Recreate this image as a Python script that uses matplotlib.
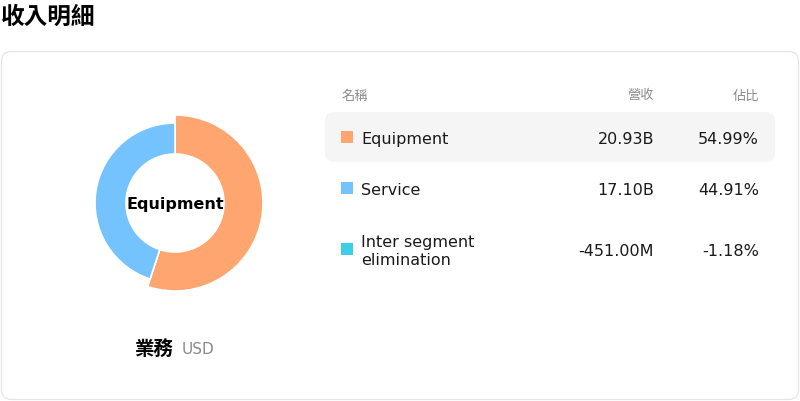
import matplotlib
matplotlib.use("Agg")
import matplotlib.pyplot as plt
from matplotlib.patches import FancyBboxPatch, Rectangle

plt.rcParams['font.family'] = ['DejaVu Sans', 'Noto Sans CJK TC']

# data
names = ['Equipment', 'Service', 'Inter segment\nelimination']
revenue = [20.93e9, 17.10e9, -451.00e6]
revenue_labels = ['20.93B', '17.10B', '-451.00M']
share_labels = ['54.99%', '44.91%', '-1.18%']
colors = ['#FFA56F', '#74C3FF', '#3ECFE6']
headers = ['名稱', '營收', '佔比']

fig = plt.figure(figsize=(8, 4.02), dpi=100)
ax = fig.add_axes([0, 0, 1, 1])
ax.set_xlim(0, 800)
ax.set_ylim(402, 0)
ax.axis('off')

# title and card
ax.text(1, 17, '收入明細', fontsize=17, fontweight='bold', va='center', ha='left')
ax.add_patch(FancyBboxPatch((1.5, 52.5), 797, 348, boxstyle='round,pad=0,rounding_size=10',
                            fc='white', ec='#e4e4ec', lw=0.9))
ax.add_patch(FancyBboxPatch((325, 113), 450, 50, boxstyle='round,pad=0,rounding_size=9',
                            fc='#f5f5f5', ec='none'))

# table header
ax.text(342, 96, headers[0], fontsize=9.5, color='#8a8a8a', va='center', ha='left')
ax.text(654, 96, headers[1], fontsize=9.5, color='#8a8a8a', va='center', ha='right')
ax.text(759, 96, headers[2], fontsize=9.5, color='#8a8a8a', va='center', ha='right')

row_y = [139.5, 190.5, 251.5]
for i in range(len(names)):
    y = row_y[i]
    ax.add_patch(Rectangle((341, y - 7.5), 12, 12, fc=colors[i], ec='none'))
    ax.text(361, y, names[i], fontsize=11.5, color='#1a1a1a', va='center', ha='left',
            linespacing=1.3)
    ax.text(654, y, revenue_labels[i], fontsize=11.5, color='#1a1a1a', va='center', ha='right')
    ax.text(759, y, share_labels[i], fontsize=11.5, color='#1a1a1a', va='center', ha='right')

# donut (negative values are not drawn)
pos_vals = [v for v in revenue if v > 0]
pie_ax = fig.add_axes([75 / 800, (402 - 304) / 402, 200 / 800, 200 / 402])
wedges, _ = pie_ax.pie(pos_vals, colors=colors[:len(pos_vals)], startangle=90,
                       counterclock=False, radius=0.80,
                       wedgeprops=dict(width=0.31, edgecolor='white', linewidth=1.2))
wedges[0].set_radius(0.88)
wedges[0].set_width(0.39)
pie_ax.set_xlim(-1, 1)
pie_ax.set_ylim(-1, 1)
pie_ax.set_aspect('equal')
pie_ax.axis('off')
pie_ax.text(0, -0.01, names[0], fontsize=11.5, fontweight='bold', ha='center', va='center')

ax.text(174, 350, '業務', fontsize=14, fontweight='bold', va='center', ha='right')
ax.text(182, 350, 'USD', fontsize=11, color='#8a8a8a', va='center', ha='left')

fig.savefig('out.png', dpi=100)
